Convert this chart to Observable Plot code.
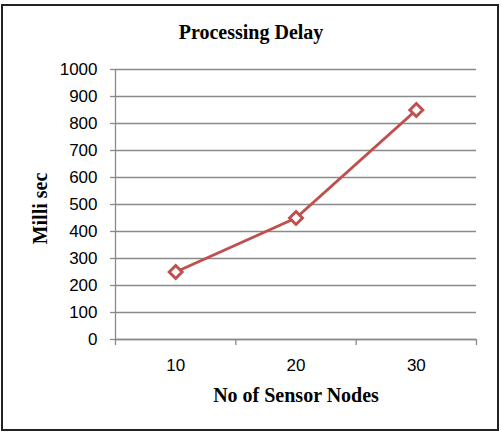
<!DOCTYPE html>
<html>
<head>
<meta charset="utf-8">
<script src="https://cdn.jsdelivr.net/npm/d3@7"></script>
<script src="https://cdn.jsdelivr.net/npm/@observablehq/plot@0.6"></script>
<style>
  html, body { margin: 0; padding: 0; background: #fff; }
  #wrap { position: relative; width: 501px; height: 446px; }
  #chart { position: absolute; left: 0; top: 0; }
  #frame { position: absolute; left: 1px; top: 4px; width: 494px; height: 423px; border: 2px solid #222; pointer-events: none; }
</style>
</head>
<body>
<div id="wrap"><div id="chart"></div><div id="frame"></div></div>
<script>
// Processing delay (ms) by number of sensor nodes
const nodes = [10, 20, 30];
const delay = [250, 450, 850];
const yTicks = [0, 100, 200, 300, 400, 500, 600, 700, 800, 900, 1000];
const bandEdges = [5, 15, 25, 35];

const rows = nodes.map((n, i) => ({nodes: n, delay: delay[i]}));
const grid = "#8a8a8a";
const red = "#C0504D";
const serif = "'Liberation Serif', 'Times New Roman', serif";

const chart = Plot.plot({
  width: 501,
  height: 446,
  marginLeft: 115,
  marginRight: 25,
  marginTop: 69,
  marginBottom: 107,
  style: {fontFamily: "'Liberation Sans', Arial, sans-serif", background: "transparent", color: "#000"},
  x: {domain: [5, 35], axis: null},
  y: {domain: [0, 1000], axis: null},
  marks: [
    Plot.gridY(yTicks, {stroke: grid, strokeOpacity: 1, strokeWidth: 1.3}),
    Plot.ruleX([5], {stroke: grid, strokeWidth: 1.3}),
    Plot.ruleY([0], {stroke: grid, strokeWidth: 1.3}),
    Plot.axisY(yTicks, {label: null, tickSize: 5, tickPadding: 13, fontSize: 17, stroke: grid, strokeWidth: 1.3, fill: "#000", tickFormat: d => String(d)}),
    Plot.axisX(bandEdges, {label: null, tickSize: 6, tickFormat: () => "", stroke: grid, strokeWidth: 1.3}),
    Plot.axisX(nodes, {label: null, tickSize: 0, tickPadding: 19, fontSize: 17, fill: "#000", tickFormat: d => String(d)}),
    Plot.line(rows, {x: "nodes", y: "delay", stroke: red, strokeWidth: 3}),
    Plot.dot(rows, {x: "nodes", y: "delay", symbol: "diamond2", r: 5.8, fill: "#fff", stroke: red, strokeWidth: 3}),
    Plot.text(["Processing Delay"], {frameAnchor: "top", dx: -45, dy: -45, fontSize: 20, fontWeight: "bold", fontFamily: serif, fill: "#000"}),
    Plot.text(["No of Sensor Nodes"], {frameAnchor: "bottom", dy: 62, fontSize: 20, fontWeight: "bold", fontFamily: serif, fill: "#000"}),
    Plot.text(["Milli sec"], {frameAnchor: "left", textAnchor: "middle", dx: -75, dy: 4, rotate: -90, fontSize: 20, fontWeight: "bold", fontFamily: serif, fill: "#000"})
  ]
});
document.getElementById("chart").appendChild(chart);
</script>
</body>
</html>
